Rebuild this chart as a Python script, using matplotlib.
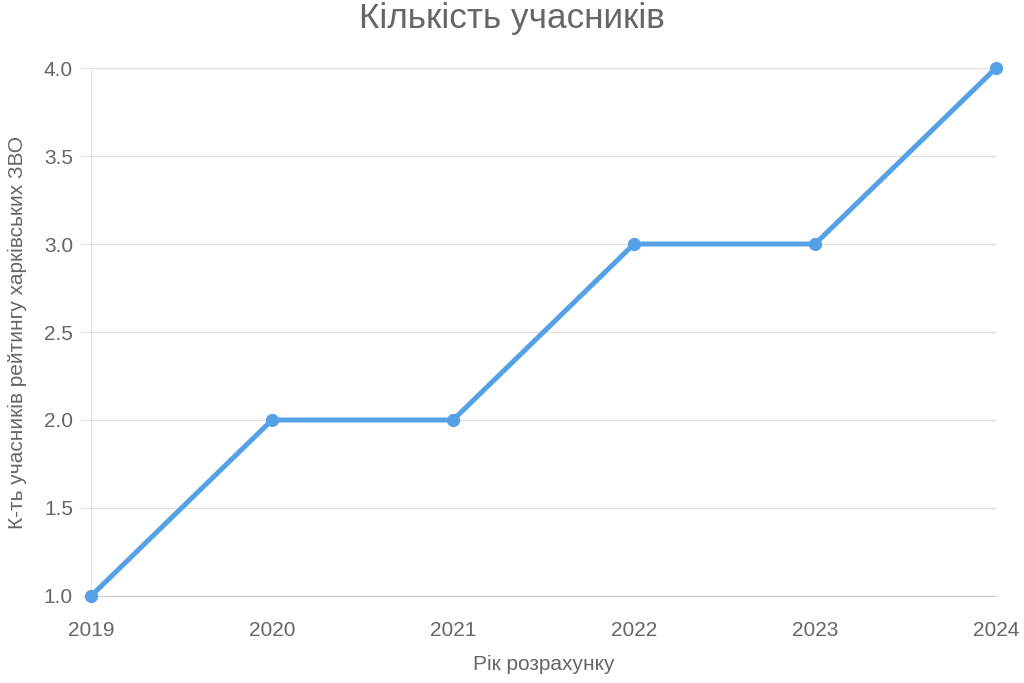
import matplotlib.pyplot as plt

plt.rcParams['font.family'] = ['Liberation Sans', 'DejaVu Sans']

# Дані
years = ['2019', '2020', '2021', '2022', '2023', '2024']
counts = [1, 2, 2, 3, 3, 4]

line_color = '#55a1e6'
text_color = '#666666'
grid_color = '#e1e1e1'

fig = plt.figure(figsize=(10.24, 6.83), dpi=100)
ax = fig.add_axes([0.0889, 0.1274, 0.8838, 0.7730])

x = range(len(years))
ax.plot(x, counts, color=line_color, linewidth=3.6, marker='o',
        markersize=8.5, clip_on=False, zorder=3)

ax.set_xlim(0, len(years) - 1)
ax.set_ylim(1.0, 4.0)
ax.set_xticks(list(x))
ax.set_xticklabels(years)
ax.set_yticks([1.0, 1.5, 2.0, 2.5, 3.0, 3.5, 4.0])
ax.set_yticklabels(['1.0', '1.5', '2.0', '2.5', '3.0', '3.5', '4.0'])

ax.grid(axis='y', color=grid_color, linewidth=1)
ax.set_axisbelow(True)
for s in ['top', 'right']:
    ax.spines[s].set_visible(False)
ax.spines['left'].set_color(grid_color)
ax.spines['bottom'].set_color('#cccccc')
ax.tick_params(axis='y', length=8, color=grid_color, labelcolor=text_color,
               labelsize=15, pad=5)
ax.tick_params(axis='x', length=0, labelcolor=text_color, labelsize=15, pad=18)

ax.set_xlabel('Рік розрахунку', color=text_color, fontsize=15, labelpad=11)
ax.set_ylabel('К-ть учасників рейтингу харківських ЗВО', color=text_color,
              fontsize=15, labelpad=12)
fig.suptitle('Кількість учасників', color=text_color, fontsize=25.3, y=0.997)

fig.savefig('out.png', dpi=100)
